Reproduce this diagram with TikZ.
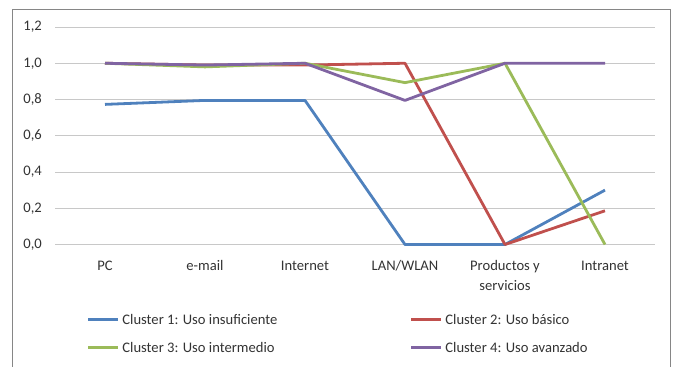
\documentclass[tikz,border=0pt]{standalone}
\usepackage{fontspec}
\setmainfont{Carlito}
\usetikzlibrary{calc}
\definecolor{cblue}{HTML}{4F81BD}
\definecolor{cred}{HTML}{C0504D}
\definecolor{cgreen}{HTML}{9BBB59}
\definecolor{cpurple}{HTML}{8064A2}
\definecolor{gridgray}{HTML}{C8C8C8}
\definecolor{framegray}{HTML}{868686}
\definecolor{labgray}{HTML}{333333}

\begin{document}
\begin{tikzpicture}[x=1pt,y=-1pt,
    gridline/.style={color=gridgray,line width=1pt},
    serie/.style={line width=2.8pt,line join=round},
    lab/.style={font=\fontsize{14.6}{19.5}\selectfont,text=labgray,inner sep=0pt}]
    \useasboundingbox (0,0) rectangle (673,367);
    \draw [color=framegray,line width=0.9pt] (12.7,380)--(12.7,9)--(670.5,9)--(670.5,380);
    % value axis: gridlines and labels
    \begin{scope}[shift={(0,244.5)},y=181.25pt]
      \foreach \v/\t in {0/{0,0},0.2/{0,2},0.4/{0,4},0.6/{0,6},0.8/{0,8},1/{1,0},1.2/{1,2}}{
        \draw [gridline] (55,\v)--(655,\v);
        \node[lab,anchor=east] (y\v) at (42,\v) {\t};
      }
      % series
      \draw [serie,color=cblue] plot coordinates {(105,0.773) (205,0.795) (305,0.795) (405,0) (505,0) (605,0.30)};
      \draw [serie,color=cred] plot coordinates {(105,1.0) (205,0.99) (305,0.99) (405,1.0) (505,0) (605,0.186)};
      \draw [serie,color=cgreen] plot coordinates {(105,1.0) (205,0.98) (305,1.0) (405,0.893) (505,1.0) (605,0)};
      \draw [serie,color=cpurple] plot coordinates {(105,1.0) (205,0.99) (305,1.0) (405,0.795) (505,1.0) (605,1.0)};
    \end{scope}
    % categories
    \node[lab] (PC) at (105,265.7) {PC};
    \node[lab] (Email) at (205,265.7) {e-mail};
    \node[lab] (Inet) at (305,265.7) {Internet};
    \node[lab] (Lan) at (405,265.7) {LAN/WLAN};
    \node[lab,align=center] (Prod) at (505,275.3) {Productos y\\servicios};
    \node[lab] (Intra) at (605,265.7) {Intranet};
    % legend
    \coordinate (L1) at (88,319.7);
    \coordinate (L2) at (411,319.7);
    \coordinate (L3) at (88,347.7);
    \coordinate (L4) at (411,347.7);
    \draw [serie,color=cblue] (L1)--++(30,0) node[lab,anchor=west,xshift=3pt] (t1) {Cluster 1: Uso insuficiente};
    \draw [serie,color=cred] (L2)--++(30,0) node[lab,anchor=west,xshift=3pt] (t2) {Cluster 2: Uso básico};
    \draw [serie,color=cgreen] (L3)--++(30,0) node[lab,anchor=west,xshift=3pt] (t3) {Cluster 3: Uso intermedio};
    \draw [serie,color=cpurple] (L4)--++(30,0) node[lab,anchor=west,xshift=3pt] (t4) {Cluster 4: Uso avanzado};
\end{tikzpicture}
\end{document}
